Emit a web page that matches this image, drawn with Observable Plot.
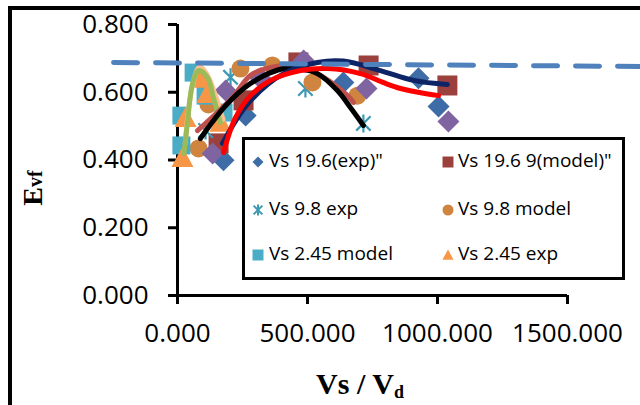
<!DOCTYPE html>
<html><head><meta charset="utf-8">
<script src="https://cdn.jsdelivr.net/npm/d3@7"></script>
<script src="https://cdn.jsdelivr.net/npm/@observablehq/plot@0.6"></script>
<style>
html,body{margin:0;padding:0;background:#fff;}
#wrap{position:relative;width:640px;height:405px;overflow:hidden;font-family:"Open Sans",sans-serif;}
#frame{position:absolute;left:8px;top:6px;width:800px;height:600px;border-left:4px solid #000;border-top:4px solid #000;z-index:3;pointer-events:none;}
#chart{position:absolute;left:0;top:0;z-index:1;}
#legend{position:absolute;left:242px;top:137px;width:383px;height:143px;box-sizing:border-box;border:3px solid #000;background:#fff;z-index:2;}
.li{position:absolute;font-size:19px;color:#000;white-space:nowrap;line-height:1;}
.lm{position:absolute;}
</style></head>
<body>
<div id="wrap"><div id="frame"></div><div id="chart"></div><div id="legend"></div></div>
<script>
// ---- data ----
const xTicks = [0, 500, 1000, 1500];
const yTicks = [0, 0.2, 0.4, 0.6, 0.8];
const vs196Exp   = [[177,0.399],[262,0.531],[638,0.629],[927,0.641],[1004,0.558]];
const vs196Model = [[158,0.449],[254,0.576],[465,0.688],[735,0.679],[1038,0.620]];
const vs98Exp    = [[108,0.487],[204,0.644],[492,0.611],[715,0.508]];
const vs98Model  = [[81,0.434],[119,0.564],[242,0.670],[365,0.679],[519,0.629],[692,0.590]];
const vs245Model = [[15,0.443],[15,0.531],[62,0.658],[108,0.590],[177,0.540]];
const vs245Exp   = [[19,0.407],[31,0.525],[88,0.641],[115,0.596],[165,0.511]];
const extraSeries = [[135,0.419],[185,0.605],[319,0.641],[485,0.694],[727,0.611],[1042,0.514]];
const trend245Exp   = [[25,0.420],[38,0.508],[58,0.626],[81,0.664],[115,0.644],[138,0.585],[165,0.511]];
const trend245Model = [[30,0.450],[55,0.610],[85,0.675],[115,0.650],[146,0.590],[175,0.520]];
const trend98Exp    = [[88,0.463],[185,0.560],[281,0.626],[408,0.670],[465,0.670],[538,0.655],[615,0.605],[665,0.555],[715,0.502]];
const trend98Model  = [[77,0.487],[212,0.585],[281,0.650],[358,0.673],[462,0.679],[562,0.644],[654,0.590],[677,0.570]];
const trend196Exp   = [[173,0.449],[275,0.570],[408,0.655],[538,0.688],[638,0.692],[780,0.664],[908,0.635],[1038,0.623]];
const trend196Model = [[177,0.422],[223,0.525],[281,0.590],[358,0.635],[473,0.664],[577,0.670],[704,0.655],[790,0.629],[858,0.611],[962,0.595],[1004,0.590]];
const refLine = [[-246,0.688],[1781,0.676]];
const legendNames = ['Vs 19.6(exp)"', 'Vs 19.6 9(model)"', 'Vs 9.8 exp', 'Vs 9.8 model', 'Vs 2.45 model', 'Vs 2.45 exp'];

// ---- symbols ----
const sz = s => Math.sqrt(s / Math.PI);
const diamondSym = {draw(c, s){const r=sz(s);c.moveTo(0,-r);c.lineTo(r,0);c.lineTo(0,r);c.lineTo(-r,0);c.closePath();}};
const squareSym = {draw(c, s){const r=sz(s);c.rect(-r,-r,2*r,2*r);}};
const triSym = {draw(c, s){const r=sz(s);c.moveTo(0,-r);c.lineTo(r,r*0.85);c.lineTo(-r,r*0.85);c.closePath();}};
const circSym = {draw(c, s){const r=sz(s);c.moveTo(r,0);c.arc(0,0,r,0,2*Math.PI);}};
const astSym = {draw(c, s){const r=sz(s);const d=r*0.8;c.moveTo(0,-r);c.lineTo(0,r);c.moveTo(-d,-d);c.lineTo(d,d);c.moveTo(d,-d);c.lineTo(-d,d);}};

const styles = [
  {data: vs196Exp, sym: diamondSym, fill: "#3D6CA6", r: 11},
  {data: vs196Model, sym: squareSym, fill: "#9C403D", r: 10},
  {data: vs98Exp, sym: astSym, stroke: "#3D9AB3", r: 9},
  {data: vs98Model, sym: circSym, fill: "#CF8440", r: 9},
  {data: vs245Model, sym: squareSym, fill: "#4BACC6", r: 9},
  {data: vs245Exp, sym: triSym, fill: "#F79646", r: 11},
];

const dotMark = (st) => st.stroke
  ? Plot.dot(st.data, {x: d => d[0], y: d => d[1], symbol: st.sym, r: st.r, stroke: st.stroke, strokeWidth: 2.2, fill: "none"})
  : Plot.dot(st.data, {x: d => d[0], y: d => d[1], symbol: st.sym, r: st.r, fill: st.fill, stroke: "none"});
const lineMark = (data, color, w) => Plot.line(data, {x: d => d[0], y: d => d[1], stroke: color, strokeWidth: w, curve: "catmull-rom"});

const fmt = d3.format(".3f");
const plot = Plot.plot({
  width: 640, height: 405,
  marginLeft: 177, marginRight: 73, marginTop: 24, marginBottom: 110,
  x: {domain: [0, 1500]},
  y: {domain: [0, 0.8]},
  style: {fontFamily: "'Open Sans', sans-serif", fontSize: "26px", color: "#000", background: "transparent", overflow: "visible"},
  marks: [
    Plot.axisX({ticks: xTicks, tickFormat: fmt, tickSize: 9, tickPadding: 19, strokeWidth: 3, label: null, fill: "#000"}),
    Plot.axisY({ticks: yTicks, tickFormat: fmt, tickSize: 9, tickPadding: 20, strokeWidth: 3, label: null, fill: "#000"}),
    Plot.ruleY([0], {stroke: "#000", strokeWidth: 3}),
    Plot.ruleX([0], {stroke: "#000", strokeWidth: 3}),
    ...styles.map(dotMark),
    Plot.dot(extraSeries, {x: d => d[0], y: d => d[1], symbol: diamondSym, r: 11, fill: "#8064A2"}),
    lineMark(trend245Model, "#FAC090", 5),
    lineMark(trend245Exp, "#9BBB59", 5),
    lineMark(trend98Model, "#C0504D", 5),
    lineMark(trend98Exp, "#000000", 5),
    lineMark(trend196Exp, "#0D2466", 5),
    lineMark(trend196Model, "#FF0000", 5),
    Plot.line(refLine, {x: d => d[0], y: d => d[1], stroke: "#4F81BD", strokeWidth: 5, strokeDasharray: "24,18"})
  ]
});
document.getElementById("chart").appendChild(plot);

// axis titles
const svg = d3.select(plot);
const xt = svg.append("text").attr("x", 360).attr("y", 394).attr("text-anchor", "middle")
  .style("font-family", "'Liberation Serif','Times New Roman',serif").style("font-weight", "bold").style("font-size", "30px").attr("fill", "#000");
xt.append("tspan").text("Vs / V");
xt.append("tspan").text("d").style("font-size", "18px").attr("dy", 4);
const yt = svg.append("text").attr("transform", "translate(42,188) rotate(-90)").attr("text-anchor", "middle")
  .style("font-family", "'Liberation Serif','Times New Roman',serif").style("font-weight", "bold").style("font-size", "28px").attr("fill", "#000");
yt.append("tspan").text("E");
yt.append("tspan").text("vf").style("font-size", "20px");

// legend
const leg = document.getElementById("legend");
const colX = [16, 206], textX = [27, 216], rowY = [25, 73, 118];
legendNames.forEach((name, i) => {
  const col = i % 2, row = Math.floor(i / 2), st = styles[i];
  const m = d3.create("svg").attr("class", "lm").attr("width", 16).attr("height", 16)
    .style("left", (colX[col] - 8 - 3) + "px").style("top", (rowY[row] - 8 - 3) + "px");
  const p = d3.symbol(st.sym, Math.PI * 5.5 * 5.5)();
  const path = m.append("path").attr("d", p).attr("transform", "translate(8,8)");
  if (st.stroke) path.attr("fill", "none").attr("stroke", st.stroke).attr("stroke-width", 2);
  else path.attr("fill", st.fill);
  leg.appendChild(m.node());
  const t = document.createElement("div");
  t.className = "li"; t.textContent = name;
  t.style.left = (textX[col] - 3) + "px"; t.style.top = (rowY[row] - 3 - 11) + "px";
  leg.appendChild(t);
});
</script>
</body></html>
